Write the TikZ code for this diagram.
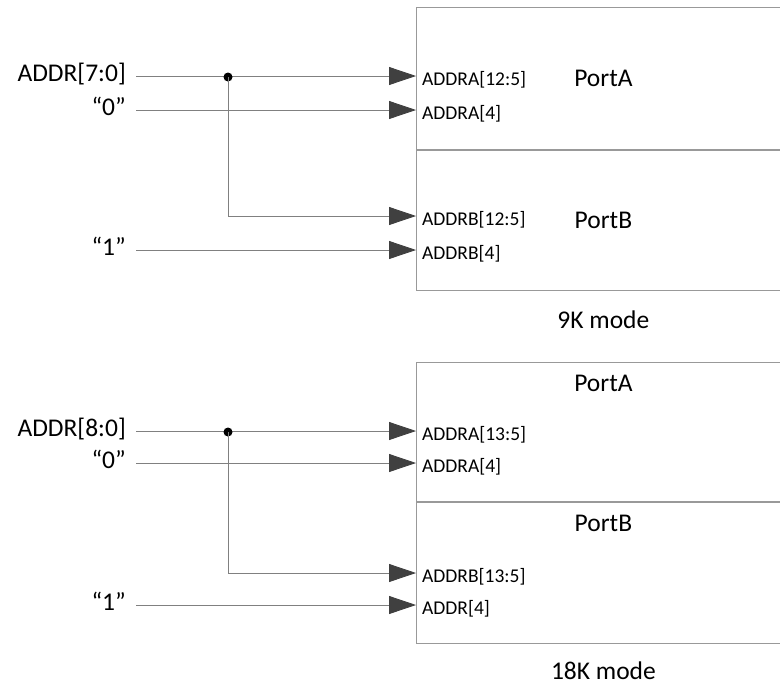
\documentclass[tikz,border=0pt]{standalone}
\usepackage{fontspec}
\setmainfont{Carlito}
\usetikzlibrary{arrows.meta,positioning}

\begin{document}
\begin{tikzpicture}[
  x=1pt, y=-1pt,
  big/.style={font=\fontsize{25.5}{30}\selectfont, inner sep=0pt},
  src/.style={big, anchor=east, inner xsep=10pt, text height=14pt, text depth=4pt},
  pin/.style={anchor=west, font=\fontsize{19.5}{23}\selectfont, inner xsep=6pt, inner ysep=0pt, text height=22pt, text depth=4pt},
  port/.style={draw=black!40, line width=0.8pt, minimum width=374pt, inner sep=0pt, font=\fontsize{25.5}{30}\selectfont},
  wire/.style={draw=black!50, line width=0.8pt, -{Triangle[length=27pt, width=18pt, black!75]}},
  dot/.style={circle, fill=black, inner sep=0pt, minimum size=9pt}
]
\useasboundingbox (0,0) rectangle (780,686);
\clip (0,0) rectangle (780,686);

% 9K mode
\node[port, minimum height=142pt, anchor=north west] (p9a) at (416,7) {PortA};
\node[port, minimum height=140pt, below=0pt of p9a] (p9b) {PortB};
\node[big, below=20pt of p9b] (m9) {9K mode};

\node[src] (a9) at (136,76) {ADDR[7:0]};
\node[src] (z9) at (136,110) {“0”};
\node[src] (o9) at (136,250) {“1”};
\node[pin] (pa9h) at (416,76) {ADDRA[12:5]};
\node[pin] (pa9l) at (416,110) {ADDRA[4]};
\node[pin] (pb9h) at (416,216) {ADDRB[12:5]};
\node[pin] (pb9l) at (416,250) {ADDRB[4]};

\draw[wire] (a9.east) -- (pa9h.west);
\draw[wire] (z9.east) -- (pa9l.west);
\draw[wire] (o9.east) -- (pb9l.west);
\node[dot] (j9) at (228,77) {};
\draw[wire] (j9.center) |- (pb9h.west);

% 18K mode
\node[port, minimum height=139pt, anchor=north west] (p18a) at (416,362) {};
\node[port, minimum height=141pt, below=0pt of p18a] (p18b) {};
\node[big, below=13pt of p18a.north] (t18a) {PortA};
\node[big, below=13pt of p18b.north] (t18b) {PortB};
\node[big, below=18pt of p18b] (m18) {18K mode};

\node[src] (a18) at (136,431) {ADDR[8:0]};
\node[src] (z18) at (136,463) {“0”};
\node[src] (o18) at (136,605) {“1”};
\node[pin] (pa18h) at (416,431) {ADDRA[13:5]};
\node[pin] (pa18l) at (416,463) {ADDRA[4]};
\node[pin] (pb18h) at (416,573) {ADDRB[13:5]};
\node[pin] (pb18l) at (416,605) {ADDR[4]};

\draw[wire] (a18.east) -- (pa18h.west);
\draw[wire] (z18.east) -- (pa18l.west);
\draw[wire] (o18.east) -- (pb18l.west);
\node[dot] (j18) at (228,432) {};
\draw[wire] (j18.center) |- (pb18h.west);
\end{tikzpicture}
\end{document}
